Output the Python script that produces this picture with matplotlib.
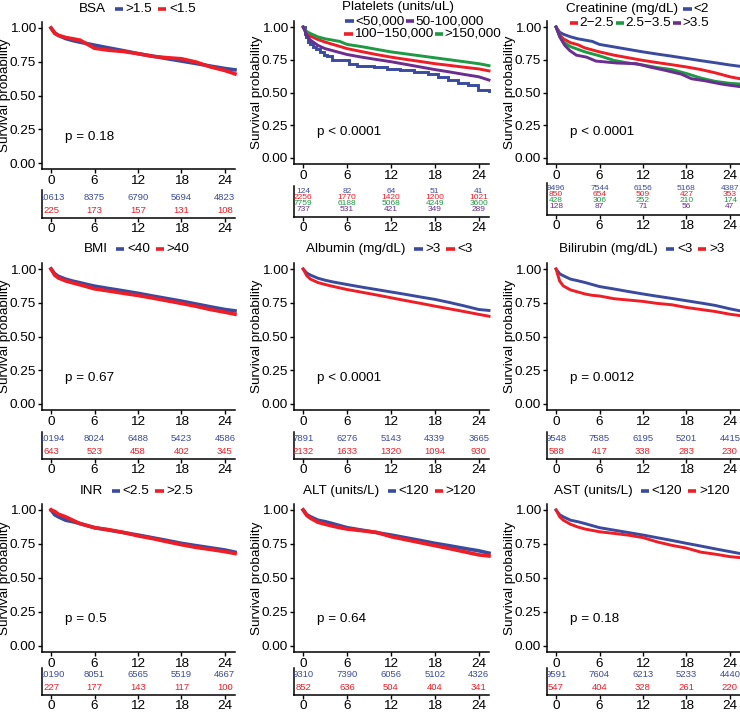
# Kaplan-Meier survival by baseline variable, 3x3 panels with risk tables
import matplotlib
matplotlib.use("Agg")
import matplotlib.pyplot as plt
from matplotlib.offsetbox import TextArea, DrawingArea, HPacker, AnnotationBbox
from matplotlib.lines import Line2D

plt.rcParams['font.family'] = ['Liberation Sans', 'DejaVu Sans']

W, H = 740, 712
BLUE = '#3A4B9F'
RED = '#EE1D26'
GREEN = '#1D9A43'
PURPLE = '#6B2D8F'
FS = 9.7      # ticks / labels / legend
FS_TAB2 = 6.8  # numbers at risk, 2 groups
FS_TAB4 = 6.0  # numbers at risk, 4 groups

# common time grid (months) for the smooth curves
months = [0, 0.5, 1, 2, 3, 4, 5, 6, 8, 10, 12, 14, 16, 18, 20, 22, 24, 25.4]
risk_months = [0, 6, 12, 18, 24]

# BSA
bsa_hi = [1, .965, .945, .922, .907, .895, .884, .873, .852, .832, .81, .792, .773, .755, .737, .718, .70, .69]
bsa_lo = [1, .96, .946, .93, .92, .91, .88, .85, .835, .826, .81, .79, .78, .772, .748, .712, .685, .66]
bsa_risk_hi = [10613, 8375, 6790, 5694, 4823]
bsa_risk_lo = [225, 173, 157, 131, 108]

# Platelets
plt_gt150 = [1, .965, .95, .925, .91, .90, .89, .867, .85, .83, .81, .795, .78, .765, .75, .735, .72, .705]
plt_100_150 = [1, .955, .93, .905, .885, .868, .852, .835, .812, .79, .77, .753, .737, .72, .707, .693, .68, .665]
plt_50_100 = [1, .935, .90, .86, .835, .82, .805, .79, .77, .752, .735, .715, .695, .675, .657, .638, .62, .595]
plt_lt50_t = [0, 0.2, 0.4, 0.7, 1.0, 1.4, 1.8, 2.3, 2.8, 3.2, 3.9, 5.3, 6.2, 7.4, 8.4, 9.7, 11.5,
              13.3, 15.2, 17.0, 18.4, 19.8, 21.1, 22.5, 23.9, 25.4]
plt_lt50 = [1, .95, .92, .885, .87, .85, .83, .81, .79, .775, .75, .745, .72, .705, .70, .695, .68,
            .67, .655, .645, .62, .595, .57, .555, .52, .515]
plt_risk_lt50 = [124, 82, 64, 51, 41]
plt_risk_100_150 = [2256, 1770, 1420, 1200, 1021]
plt_risk_gt150 = [7759, 6188, 5068, 4249, 3600]
plt_risk_50_100 = [737, 531, 421, 349, 289]

# Creatinine
cr_lt2 = [1, .96, .945, .925, .91, .90, .89, .867, .848, .829, .81, .793, .777, .76, .743, .727, .71, .70]
cr_2_25 = [1, .94, .91, .88, .865, .84, .825, .81, .785, .765, .745, .728, .712, .695, .675, .65, .62, .605]
cr_25_35 = [1, .93, .885, .85, .83, .81, .795, .78, .745, .725, .71, .69, .675, .645, .61, .585, .57, .565]
cr_gt35_t = [0, 0.5, 1.2, 1.9, 2.8, 4.2, 5.5, 8.4, 11.1, 12.9, 15, 17.3, 18.7, 20.5, 22.8, 24, 25.4]
cr_gt35 = [1, .925, .86, .82, .785, .77, .74, .725, .72, .695, .67, .64, .605, .59, .565, .555, .545]
cr_risk_lt2 = [9496, 7544, 6156, 5168, 4387]
cr_risk_2_25 = [850, 654, 509, 427, 353]
cr_risk_25_35 = [428, 306, 252, 210, 174]
cr_risk_gt35 = [128, 87, 71, 56, 47]

# BMI
bmi_lt40 = [1, .965, .946, .925, .91, .898, .885, .873, .855, .838, .82, .80, .781, .762, .741, .72, .70, .69]
bmi_gt40 = [1, .955, .934, .912, .897, .883, .868, .853, .837, .82, .804, .785, .765, .745, .724, .70, .68, .665]
bmi_risk_lt40 = [10194, 8024, 6488, 5423, 4586]
bmi_risk_gt40 = [643, 523, 458, 402, 345]

# Albumin
alb_gt3 = [1, .97, .955, .932, .917, .905, .895, .885, .866, .848, .83, .812, .793, .775, .752, .727, .70, .693]
alb_lt3 = [1, .95, .925, .90, .885, .872, .86, .848, .828, .808, .787, .766, .746, .725, .705, .685, .664, .65]
alb_risk_gt3 = [7891, 6276, 5143, 4339, 3665]
alb_risk_lt3 = [2132, 1633, 1320, 1094, 930]

# Bilirubin
bil_lt3 = [1, .965, .95, .925, .913, .90, .885, .87, .852, .833, .815, .798, .782, .765, .748, .73, .705, .69]
bil_gt3 = [1, .91, .875, .845, .83, .815, .805, .80, .78, .77, .76, .745, .735, .715, .70, .685, .665, .655]
bil_risk_lt3 = [9548, 7585, 6195, 5201, 4415]
bil_risk_gt3 = [588, 417, 338, 283, 230]

# INR
inr_lt25 = [1, .965, .95, .925, .914, .90, .885, .87, .852, .834, .816, .796, .776, .755, .738, .722, .706, .69]
inr_gt25 = [1, .99, .97, .95, .925, .90, .885, .87, .855, .835, .81, .79, .767, .745, .725, .71, .694, .68]
inr_risk_lt25 = [10190, 8051, 6565, 5519, 4667]
inr_risk_gt25 = [227, 177, 143, 117, 100]

# ALT
alt_lt120 = [1, .965, .95, .925, .914, .90, .885, .87, .852, .834, .816, .796, .776, .755, .737, .718, .70, .683]
alt_gt120 = [1, .96, .94, .91, .895, .882, .87, .86, .848, .836, .804, .782, .76, .738, .716, .693, .67, .662]
alt_risk_lt120 = [9310, 7390, 6056, 5102, 4326]
alt_risk_gt120 = [852, 636, 504, 404, 341]

# AST
ast_lt120 = [1, .965, .95, .925, .914, .90, .885, .87, .852, .834, .816, .796, .776, .755, .735, .714, .694, .68]
ast_gt120 = [1, .95, .925, .895, .875, .86, .85, .84, .828, .815, .797, .765, .74, .72, .69, .675, .657, .65]
ast_risk_lt120 = [9591, 7604, 6213, 5233, 4440]
ast_risk_gt120 = [547, 404, 328, 261, 220]

# (label, color, times, surv, risk, steps)
panels = [
    dict(title='BSA', p='p = 0.18', curves=[
        ('>1.5', BLUE, months, bsa_hi, bsa_risk_hi, False),
        ('<1.5', RED, months, bsa_lo, bsa_risk_lo, False)]),
    dict(title='Platelets (units/uL)', p='p < 0.0001', curves=[
        ('<50,000', BLUE, plt_lt50_t, plt_lt50, plt_risk_lt50, True),
        ('100\u2212150,000', RED, months, plt_100_150, plt_risk_100_150, False),
        ('>150,000', GREEN, months, plt_gt150, plt_risk_gt150, False),
        ('50-100,000', PURPLE, months, plt_50_100, plt_risk_50_100, False)]),
    dict(title='Creatinine (mg/dL)', p='p < 0.0001', curves=[
        ('<2', BLUE, months, cr_lt2, cr_risk_lt2, False),
        ('2\u22122.5', RED, months, cr_2_25, cr_risk_2_25, False),
        ('2.5\u22123.5', GREEN, months, cr_25_35, cr_risk_25_35, False),
        ('>3.5', PURPLE, cr_gt35_t, cr_gt35, cr_risk_gt35, False)]),
    dict(title='BMI', p='p = 0.67', curves=[
        ('<40', BLUE, months, bmi_lt40, bmi_risk_lt40, False),
        ('>40', RED, months, bmi_gt40, bmi_risk_gt40, False)]),
    dict(title='Albumin (mg/dL)', p='p < 0.0001', curves=[
        ('>3', BLUE, months, alb_gt3, alb_risk_gt3, False),
        ('<3', RED, months, alb_lt3, alb_risk_lt3, False)]),
    dict(title='Bilirubin (mg/dL)', p='p = 0.0012', curves=[
        ('<3', BLUE, months, bil_lt3, bil_risk_lt3, False),
        ('>3', RED, months, bil_gt3, bil_risk_gt3, False)]),
    dict(title='INR', p='p = 0.5', curves=[
        ('<2.5', BLUE, months, inr_lt25, inr_risk_lt25, False),
        ('>2.5', RED, months, inr_gt25, inr_risk_gt25, False)]),
    dict(title='ALT (units/L)', p='p = 0.64', curves=[
        ('<120', BLUE, months, alt_lt120, alt_risk_lt120, False),
        ('>120', RED, months, alt_gt120, alt_risk_gt120, False)]),
    dict(title='AST (units/L)', p='p = 0.18', curves=[
        ('<120', BLUE, months, ast_lt120, ast_risk_lt120, False),
        ('>120', RED, months, ast_gt120, ast_risk_gt120, False)]),
]

# layout in pixels
col_x = [(42, 235), (294, 489), (547, 740)]
main_y = [[(28, 163), (27, 158), (27, 158)],
          [(269, 404)] * 3,
          [(510, 646)] * 3]
tab_y = [[(190, 218), (186, 217), (183, 215)],
         [(432, 459)] * 3,
         [(668, 695)] * 3]
legend_xy = [(139, 9), None, None, (138, 249), (391, 249), (643, 249),
             (138, 491), (391, 491), (643, 491)]
thick = [2.6, 2.1, 2.1, 2.6, 2.1, 2.1, 2.6, 2.6, 2.1]

fig = plt.figure(figsize=(W / 100, H / 100), dpi=100)


def rect(x0, x1, y_top, y_bot):
    return [x0 / W, 1 - y_bot / H, (x1 - x0) / W, (y_bot - y_top) / H]


def style(ax):
    for s in ['top', 'right']:
        ax.spines[s].set_visible(False)
    for s in ['left', 'bottom']:
        ax.spines[s].set_linewidth(1.1)
    ax.tick_params(length=3, width=1.0, labelsize=FS, pad=1.2, colors='black')
    ax.set_xlim(-1.25, 25.4)
    ax.set_xticks(risk_months)


def handle(color, lw):
    da = DrawingArea(8, 7, 0, 0)
    da.add_artist(Line2D([1, 7], [3.5, 3.5], color=color, lw=lw, solid_capstyle='butt'))
    return da


def legend_row(items, lw=2.6, gap=1, sep=1):
    kids = []
    for txt, col in items:
        if col is None:
            kids.append(TextArea(txt, textprops=dict(fontsize=FS)))
            kids.append(DrawingArea(3, 7, 0, 0))
        else:
            kids.append(handle(col, lw))
            kids.append(TextArea(txt, textprops=dict(fontsize=FS)))
            kids.append(DrawingArea(gap, 7, 0, 0))
    return HPacker(children=kids, sep=sep, pad=0, align='center')


def place(box, x, y, align):
    ab = AnnotationBbox(box, (x / W, 1 - y / H), xycoords='figure fraction',
                        box_alignment=align, frameon=False, pad=0)
    fig.add_artist(ab)


for i, pan in enumerate(panels):
    r, c = divmod(i, 3)
    x0, x1 = col_x[c]
    y1, y0 = main_y[r][c]
    span = y0 - y1
    ax = fig.add_axes(rect(x0, x1, y1 - 0.045 * span, y0 + 0.045 * span))
    style(ax)
    ax.set_ylim(-0.045, 1.045)
    ax.set_yticks([0, 0.25, 0.5, 0.75, 1.0])
    ax.set_yticklabels(['0.00', '0.25', '0.50', '0.75', '1.00'])
    for lab, col, t, s, risk, steps in pan['curves']:
        ax.plot(t, s, color=col, lw=thick[i], drawstyle='steps-post' if steps else 'default',
                solid_joinstyle='miter', clip_on=False)
    ax.set_ylabel('Survival probability', fontsize=FS, labelpad=-1)
    ax.text(1.9, 0.195, pan['p'], fontsize=FS, va='center', ha='left')

    # numbers-at-risk table
    ty0, ty1 = tab_y[r][c]
    tab = fig.add_axes(rect(x0, x1, ty0, ty1))
    style(tab)
    tab.tick_params(axis='x', pad=0.6)
    n = len(pan['curves'])
    tab.set_ylim((0.4, 2.55) if n == 2 else (-0.3, 4.9))
    tab.set_yticks([])
    fs_tab = FS_TAB2 if n == 2 else FS_TAB4
    for k, (lab, col, t, s, risk, steps) in enumerate(pan['curves']):
        for m, v in zip(risk_months, risk):
            tab.text(m, n - k, str(v), color=col, fontsize=fs_tab, ha='center', va='center',
                     clip_on=True)

    # legend on top
    items = [(lab, col) for lab, col, *_ in pan['curves']]
    if i == 1:
        place(TextArea(pan['title'], textprops=dict(fontsize=FS)), 342, 7, (0, 0.5))
        place(legend_row([items[0], items[3]], gap=0, sep=0), 344, 21.5, (0, 0.5))
        place(legend_row([items[1], items[2]], gap=0, sep=0), 343, 34, (0, 0.5))
    elif i == 2:
        place(legend_row([(pan['title'], None), items[0]], sep=0), 710, 9, (1, 0.5))
        place(legend_row(items[1:], gap=0, sep=0), 709, 23, (1, 0.5))
    else:
        x, y = legend_xy[i]
        place(legend_row([(pan['title'], None)] + items), x, y, (0.5, 0.5))

fig.savefig('out.png', dpi=100)
